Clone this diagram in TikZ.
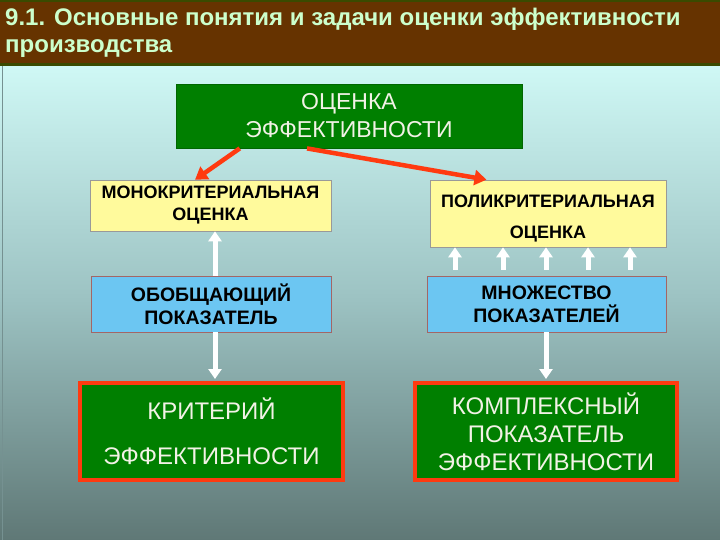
\documentclass[tikz,border=0pt]{standalone}
\usepackage{fontspec}
\setmainfont{Liberation Sans}
\usetikzlibrary{arrows.meta,calc}
\definecolor{bgtop}{HTML}{CFF8F5}
\definecolor{bgmid}{HTML}{9CC2C2}
\definecolor{bgbot}{HTML}{5F7876}
\definecolor{titlebg}{HTML}{663300}
\definecolor{titleline}{HTML}{3A4A00}
\definecolor{titletext}{HTML}{CCFFCC}
\definecolor{boxgreen}{HTML}{007F00}
\definecolor{boxyellow}{HTML}{FFFA9C}
\definecolor{boxblue}{HTML}{6CC6F2}
\definecolor{arrowred}{HTML}{FF3A10}
\definecolor{textwhite}{HTML}{F2F2E6}
\tikzset{
  greenbox/.style={draw=black!60!green, line width=0.8pt, fill=boxgreen, text=textwhite, align=center, inner sep=0pt},
  yellowbox/.style={draw=black!40, line width=0.6pt, fill=boxyellow, text=black, align=center, inner sep=0pt, font=\bfseries\fontsize{18}{22}\selectfont},
  bluebox/.style={draw=red!40!black!60, line width=0.6pt, fill=boxblue, text=black, align=center, inner sep=0pt, font=\bfseries\fontsize{19.5}{23}\selectfont},
  critbox/.style={draw=arrowred, line width=4pt, fill=boxgreen, text=textwhite, align=center, inner sep=0pt},
  redarrow/.style={draw=arrowred, line width=4.5pt, -{Triangle[width=15pt,length=12pt]}},
  whitearrow/.style={draw=white, line width=5pt, -{Triangle[width=13pt,length=10pt]}}
}
\begin{document}
\begin{tikzpicture}[x=1pt,y=-1pt]
\useasboundingbox (0,0) rectangle (720,540);
% background
\shade[top color=bgtop, bottom color=bgmid] (0,66) rectangle (720,300);
\shade[top color=bgmid, bottom color=bgbot] (0,300) rectangle (720,540);
\draw[line width=0.8pt, color=black!25!bgmid] (2,66) -- (2,540);
% title bar
\fill[titleline] (0,0) rectangle (720,66);
\fill[titlebg] (0,2) rectangle (720,63);
\node[anchor=north west, inner sep=0pt, text=titletext, align=left, font=\bfseries\fontsize{24}{27}\selectfont] (title) at (5,8)
  {9.1. Основные понятия и задачи оценки эффективности\\производства};
% boxes
\node[greenbox, minimum width=346pt, minimum height=64pt, font=\fontsize{23}{28}\selectfont] (top) at (349,116) {ОЦЕНКА\\ЭФФЕКТИВНОСТИ};
\node[yellowbox, minimum width=241pt, minimum height=51pt] (mono) at (210.5,205.5) {МОНОКРИТЕРИАЛЬНАЯ\\ОЦЕНКА};
\node[yellowbox, minimum width=236pt, minimum height=67pt, font=\bfseries\fontsize{18}{31}\selectfont] (poly) at (548,213.5) {\rule{0pt}{23pt}ПОЛИКРИТЕРИАЛЬНАЯ\\ОЦЕНКА};
\node[bluebox, minimum width=240pt, minimum height=56pt] (gen) at (211,304) {ОБОБЩАЮЩИЙ\\ПОКАЗАТЕЛЬ};
\node[bluebox, minimum width=239pt, minimum height=56pt] (many) at (546.5,304) {МНОЖЕСТВО\\ПОКАЗАТЕЛЕЙ};
\node[critbox, minimum width=263pt, minimum height=97pt, font=\fontsize{24}{45}\selectfont] (crit) at (211.5,431.5) {КРИТЕРИЙ\\ЭФФЕКТИВНОСТИ};
\node[critbox, minimum width=262pt, minimum height=97pt, font=\fontsize{24}{28}\selectfont] (comp) at (546,431.5) {КОМПЛЕКСНЫЙ\\ПОКАЗАТЕЛЬ\\ЭФФЕКТИВНОСТИ};
% red arrows
\draw[redarrow] ($(top.south west)!0.185!(top.south east)$) -- ($(mono.north west)!0.436!(mono.north east)$);
\draw[redarrow] ($(top.south west)!0.379!(top.south east)$) -- ($(poly.north west)!0.24!(poly.north east)$);
% white arrows, left column
\coordinate (lx) at (215,0);
\coordinate (rx) at (546,0);
\draw[whitearrow] (gen.north -| lx) -- (mono.south -| lx);
\draw[whitearrow] (gen.south -| lx) -- ($(crit.north -| lx)+(0,-2)$);
% white arrows, right column
\draw[whitearrow] (many.south -| rx) -- ($(comp.north -| rx)+(0,-2)$);
\foreach \i/\xx in {1/455,2/503,3/546,4/588,5/630}{
  \coordinate (p\i) at (\xx,0);
  \draw[whitearrow, shorten <=6pt] (many.north -| p\i) -- (poly.south -| p\i);
}
\end{tikzpicture}
\end{document}
